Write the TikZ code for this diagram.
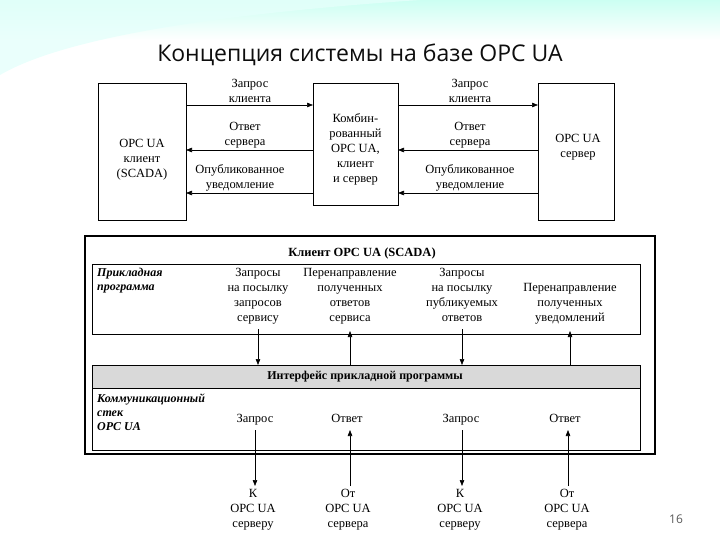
\documentclass[tikz,border=0pt]{standalone}
\usepackage{fontspec}
\setmainfont{Liberation Serif}
\newfontfamily\titlefont{Open Sans}
\usetikzlibrary{arrows.meta}
\begin{document}
\begin{tikzpicture}[x=1pt,y=-1pt,
  box/.style={draw,line width=0.8pt},
  lbl/.style={align=center,font=\fontsize{12.5}{15}\selectfont,inner sep=1pt},
  arr/.style={-{Triangle[length=6pt,width=4.5pt]},line width=0.6pt},
  sect/.style={align=left,font=\fontsize{12}{14}\selectfont\bfseries\itshape,inner sep=1pt}]
\useasboundingbox (0,0) rectangle (720,540);
\shade[top color=green!25!cyan!20,bottom color=white] (0,0) rectangle (720,40);
\fill[green!15!cyan!10,opacity=0.8] (0,0) -- (0,75) .. controls (60,40) and (200,15) .. (420,0) -- cycle;
\node[font=\titlefont\fontsize{23}{26}\selectfont,gray!10!black] (title) at (360,55) {Концепция системы на базе OPC UA};
\node[font=\titlefont\fontsize{12}{14}\selectfont,gray!70!black] (num) at (676,519) {16};
% top part
\node[box,minimum width=88,minimum height=137] (L) at (142,151.5) {};
\node[lbl] (Lt) at (142,160) {OPC UA\\клиент\\(SCADA)};
\node[box,minimum width=85,minimum height=122] (M) at (355.5,144) {};
\node[lbl] (Mt) at (355.5,149) {Комбин-\\рованный\\OPC UA,\\клиент\\и сервер};
\node[box,minimum width=76,minimum height=137] (R) at (576,151.5) {};
\node[lbl] (Rt) at (578,147) {OPC UA\\сервер};
\coordinate (l1) at (186,105); \coordinate (m1) at (313,105);
\coordinate (l2) at (186,150); \coordinate (m2) at (313,150);
\coordinate (l3) at (186,193); \coordinate (m3) at (313,193);
\coordinate (n1) at (398,105); \coordinate (r1) at (538,105);
\coordinate (n2) at (398,150); \coordinate (r2) at (538,150);
\coordinate (n3) at (398,193); \coordinate (r3) at (538,193);
\draw[arr] (l1) -- (m1); \draw[arr] (m2) -- (l2); \draw[arr] (m3) -- (l3);
\draw[arr] (n1) -- (r1); \draw[arr] (r2) -- (n2); \draw[arr] (r3) -- (n3);
\node[lbl,anchor=south] (a1) at (250,104) {Запрос\\клиента};
\node[lbl,anchor=south] (a2) at (245,149) {Ответ\\сервера};
\node[lbl,anchor=south] (a3) at (240,192) {Опубликованное\\уведомление};
\node[lbl,anchor=south] (b1) at (470,104) {Запрос\\клиента};
\node[lbl,anchor=south] (b2) at (470,149) {Ответ\\сервера};
\node[lbl,anchor=south] (b3) at (470,192) {Опубликованное\\уведомление};
% lower part
\draw[box,line width=1.4pt] (85,236) rectangle (655,454);
\node[font=\fontsize{12.5}{14}\selectfont\bfseries] (ct) at (362,253) {Клиент OPC UA (SCADA)};
\draw[box] (92,264) rectangle (640,334);
\node[sect,anchor=north west] (pp) at (96,267) {Прикладная\\программа};
\fill[gray!30] (92,365) rectangle (640,388);
\draw[box] (92,365) rectangle (640,450);
\draw[line width=0.6pt] (92,388) -- (640,388);
\node[font=\fontsize{12}{14}\selectfont\bfseries] (api) at (365,377) {Интерфейс прикладной программы};
\node[sect,anchor=north west] (ks) at (96,393) {Коммуникационный\\стек\\OPC UA};
\node[lbl,anchor=north] (t1) at (258,267) {Запросы\\на посылку\\запросов\\сервису};
\node[lbl,anchor=north] (t2) at (350,267) {Перенаправление\\полученных\\ответов\\сервиса};
\node[lbl,anchor=north] (t3) at (462,267) {Запросы\\на посылку\\публикуемых\\ответов};
\node[lbl,anchor=north] (t4) at (570,282) {Перенаправление\\полученных\\уведомлений};
\draw[arr] (258,329) -- (258,365);
\draw[arr] (350,365) -- (350,331);
\draw[arr] (462,329) -- (462,365);
\draw[arr] (570,365) -- (570,331);
\node[lbl,anchor=base] (q1) at (255,422) {Запрос};
\node[lbl,anchor=base] (o1) at (347,422) {Ответ};
\node[lbl,anchor=base] (q2) at (461,422) {Запрос};
\node[lbl,anchor=base] (o2) at (565,422) {Ответ};
\draw[arr] (255,430) -- (255,486);
\draw[arr] (350,486) -- (350,430);
\draw[arr] (462,430) -- (462,486);
\draw[arr] (568,486) -- (568,430);
\node[lbl,anchor=north] (k1) at (253,488) {К\\OPC UA\\серверу};
\node[lbl,anchor=north] (k2) at (348,488) {От\\OPC UA\\сервера};
\node[lbl,anchor=north] (k3) at (460,488) {К\\OPC UA\\серверу};
\node[lbl,anchor=north] (k4) at (567,488) {От\\OPC UA\\сервера};
\end{tikzpicture}
\end{document}
